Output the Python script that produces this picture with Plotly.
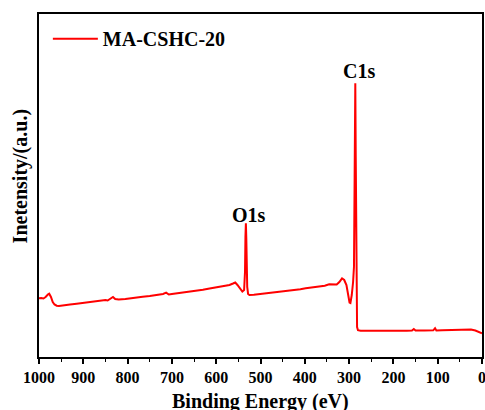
import plotly.graph_objects as go

energy = [1000, 995, 990, 985, 980, 977, 973, 969, 965, 960, 955, 945, 930, 915, 900,
          885, 870, 860, 850, 845, 838, 833, 828, 820, 805, 790, 775, 766, 750, 735,
          720, 713, 707, 700, 690, 675, 660, 645, 630, 615, 600, 585, 570, 562, 557,
          552, 547, 541, 537, 535, 534, 533, 532, 531, 530, 528, 525, 515, 500, 485,
          470, 455, 440, 425, 410, 398, 385, 370, 355, 345, 335, 328, 322, 316, 311,
          306, 302, 299, 297, 294, 291, 289, 287.5, 286, 285, 284, 283, 282, 280, 274,
          260, 240, 220, 210, 190, 170, 158, 154, 150, 130, 110, 106, 103, 90, 70,
          50, 35, 25, 15, 8, 0]
intensity = [58.7, 59.0, 58.5, 60.0, 62.5, 63.3, 60.0, 55.0, 52.5, 51.3, 51.0, 51.8, 52.5, 53.3, 54.3,
             55.0, 55.8, 56.8, 57.0, 56.5, 58.5, 60.0, 58.0, 57.5, 58.0, 58.6, 59.5, 60.3, 61.0, 61.7,
             63.0, 64.3, 62.5, 63.0, 63.5, 64.2, 65.0, 66.0, 67.2, 68.5, 69.5, 70.5, 72.0, 73.5, 74.5,
             72.0, 68.5, 65.5, 67.0, 85.0, 120.0, 133.7, 118.0, 90.0, 70.0, 63.0, 62.0, 62.3, 63.0, 63.8,
             64.7, 65.5, 66.3, 67.0, 67.8, 68.7, 69.3, 70.3, 71.3, 72.7, 72.2, 72.5, 75.0, 78.7, 77.0,
             72.0, 62.0, 54.5, 54.0, 62.0, 75.0, 90.0, 180.0, 273.7, 200.0, 90.0, 45.0, 30.0, 26.8, 26.3,
             26.2, 26.0, 26.1, 26.0, 26.2, 26.3, 26.5, 28.0, 26.4, 26.5, 26.7, 28.7, 26.5, 26.8, 27.0,
             27.3, 27.7, 27.5, 26.5, 25.0, 23.7]

series_name = "MA-CSHC-20"
peak_labels = ["C1s", "O1s"]
peak_x = [278, 527]
peak_y = [286, 142.5]
x_ticks = [1000, 900, 800, 700, 600, 500, 400, 300, 200, 100, 0]

FONT = "Liberation Serif, Times New Roman, serif"

fig = go.Figure()
fig.add_trace(go.Scatter(x=energy, y=intensity, mode="lines", name=series_name,
                         line=dict(color="#ff0000", width=2), showlegend=True))

for lab, px, py in zip(peak_labels, peak_x, peak_y):
    fig.add_annotation(x=px, y=py, text=lab, showarrow=False, xref="x", yref="y",
                       xanchor="center", yanchor="middle",
                       font=dict(family=FONT, size=20, color="black", weight="bold"))

fig.add_annotation(x=-0.0413, y=0.5257, xref="paper", yref="paper", text="Inetensity/(a.u.)",
                   textangle=-90, showarrow=False, xanchor="center", yanchor="middle",
                   font=dict(family=FONT, size=20, color="black", weight="bold"))

fig.add_annotation(x=0.5, y=-0.1297, xref="paper", yref="paper", text="Binding Energy (eV)",
                   showarrow=False, xanchor="center", yanchor="middle",
                   font=dict(family=FONT, size=20, color="black", weight="bold"))

fig.update_layout(
    width=485, height=410,
    margin=dict(l=39, r=3, t=14, b=53, autoexpand=False),
    paper_bgcolor="white", plot_bgcolor="white",
    font=dict(family=FONT, color="black"),
    showlegend=True,
    legend=dict(x=0.02, y=0.985, xanchor="left", yanchor="top", bgcolor="rgba(0,0,0,0)",
                itemwidth=45,
                font=dict(family=FONT, size=20, color="black", weight="bold")),
    xaxis=dict(range=[1000, 0], tickvals=x_ticks, ticktext=[str(v) for v in x_ticks],
               automargin=False, ticklabeloverflow="allow",
               showline=True, linecolor="black", linewidth=1.5, mirror=True,
               ticks="outside", ticklen=5, tickwidth=1.5, tickcolor="black",
               minor=dict(dtick=50, ticks="outside", ticklen=3, tickwidth=1.2, tickcolor="black"),
               showgrid=False, zeroline=False,
               tickfont=dict(family=FONT, size=16, color="black", weight="bold")),
    yaxis=dict(range=[0, 343], automargin=False, showline=True, linecolor="black", linewidth=1.5, mirror=True,
               showticklabels=False, ticks="", showgrid=False, zeroline=False),
)

fig.write_html("out.html", config={"displayModeBar": False},
               post_script="document.body.style.margin='0px';document.body.style.overflow='hidden';")
